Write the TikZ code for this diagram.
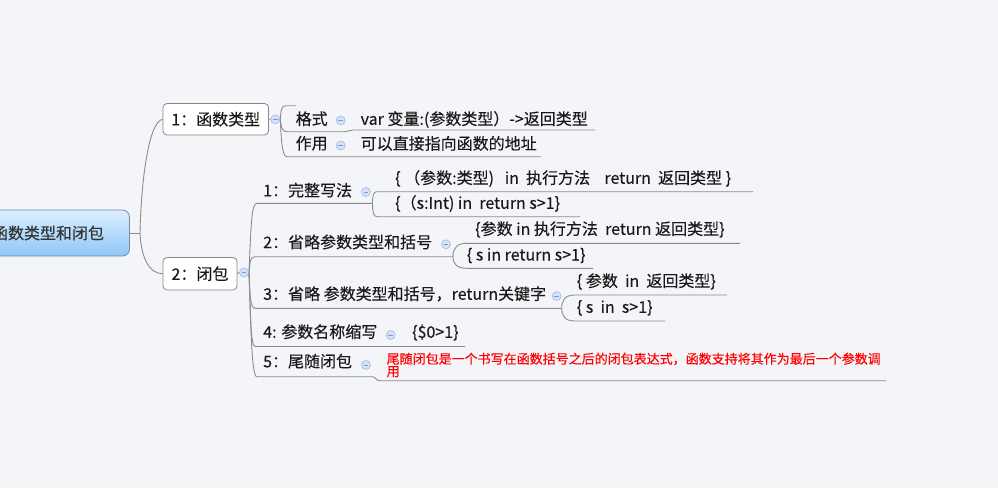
\documentclass[tikz,border=0pt]{standalone}
\usepackage{fontspec}
\setmainfont{Noto Sans CJK SC}[FakeBold=0.25]
\definecolor{bgc}{RGB}{244,245,249}
\definecolor{linec}{RGB}{140,140,140}
\definecolor{textc}{RGB}{25,25,25}
\definecolor{redc}{RGB}{255,0,0}
\definecolor{foldfill}{RGB}{214,226,247}
\definecolor{folddraw}{RGB}{160,184,230}
\definecolor{foldminus}{RGB}{125,152,212}
\definecolor{rootborder}{RGB}{120,140,160}
\definecolor{roottop}{RGB}{220,239,254}
\definecolor{rootbot}{RGB}{142,199,247}
\definecolor{boxborder}{RGB}{135,135,135}
\begin{document}
\begin{tikzpicture}[x=1pt,y=-1pt,
  conn/.style={draw=linec, line width=0.9pt},
  txt/.style={anchor=west, inner sep=0pt, font=\fontsize{16}{18}\selectfont, text=textc, text height=0.88em, text depth=0.12em},
  redtxt/.style={anchor=west, inner sep=0pt, align=left, font=\fontsize{13}{12.5}\selectfont, text=redc},
  topicbox/.style={draw=boxborder, line width=0.8pt, fill=white, rounded corners=4pt, inner sep=0pt, font=\fontsize{16}{18}\selectfont, text=textc},
  rootbox/.style={draw=rootborder, line width=0.8pt, rounded corners=7pt, top color=roottop, bottom color=rootbot, inner sep=0pt, font=\fontsize{16}{18}\selectfont, text=black!80},
  fold/.style={circle, draw=folddraw, fill=foldfill, line width=0.6pt, minimum size=9pt, inner sep=0pt,
    path picture={\draw[foldminus, line width=0.8pt] ([xshift=-2.3pt]path picture bounding box.center) -- ([xshift=2.3pt]path picture bounding box.center);}}
]
\useasboundingbox (0,0) rectangle (998,488);
\fill[bgc] (0,0) rectangle (998,488);
\clip (0,0) rectangle (998,488);

% root and first level
\node[rootbox, minimum width=163pt, minimum height=46pt] (root) at (48,233) {函数类型和闭包};
\node[topicbox, minimum width=105.5pt, minimum height=31.5pt] (n1) at (215.75,119.25) {1：函数类型};
\node[topicbox, minimum width=74pt, minimum height=32.5pt] (n2) at (200,273.75) {2：闭包};
\node[fold] (f1) at (275.3,119.3) {};
\node[fold] (f2) at (244,272.5) {};

\coordinate (r0) at (140,233);
\draw[conn] (root.east) -- (r0);
\draw[conn] (r0) .. controls (141,185) and (148,122) .. (n1.west);
\draw[conn] (r0) .. controls (141,255) and (148,273.75) .. (n2.west);
\draw[conn] (n1.east) -- (f1.west);
\draw[conn] (n2.east) -- (f2.west);

% group under 1
\coordinate (a1) at (280.3,119.5);
\coordinate (s1a) at (285.5,105.7);
\coordinate (s1b) at (295.5,105.7);
\coordinate (u11a) at (287,131.7);
\coordinate (u11b) at (345,131.7);
\coordinate (u11c) at (353,130);
\coordinate (u11d) at (595,130);
\coordinate (u12a) at (287,156.7);
\coordinate (u12b) at (541,156.7);
\draw[conn] (a1) .. controls (280.8,110) and (281.8,105.7) .. (s1a) -- (s1b);
\draw[conn] (a1) .. controls (281,127) and (282,131.7) .. (u11a) -- (u11b) .. controls (349,131.7) and (349,130) .. (u11c) -- (u11d);
\draw[conn] (a1) .. controls (281.3,140) and (282,156.7) .. (u12a) -- (u12b);

\node[txt] (t1) at (295.5,121) {格式};
\node[fold] (g1) at (340.7,120.5) {};
\node[txt] (t1c) at (360.5,121) {var 变量:(参数类型）->返回类型};
\node[txt] (t2) at (295.5,145.5) {作用};
\node[fold] (g2) at (340.7,145.5) {};
\node[txt] (t2c) at (360.5,145.7) {可以直接指向函数的地址};

% group under 2
\coordinate (a2) at (249,272.5);
\coordinate (c1a) at (257,203.3);
\coordinate (b1) at (372.5,203.3);
\coordinate (c2a) at (255,256.7);
\coordinate (b2) at (453,256.7);
\coordinate (c3a) at (255,308.3);
\coordinate (b3) at (561.7,308.3);
\coordinate (c4a) at (255,346.5);
\coordinate (c4b) at (465,346.5);
\coordinate (c5a) at (256.7,376.7);
\coordinate (c5b) at (371.7,376.7);
\coordinate (c5c) at (380,380.7);
\coordinate (c5d) at (886,380.7);
\draw[conn] (a2) .. controls (251,224) and (251.5,203.3) .. (c1a) -- (b1);
\draw[conn] (a2) .. controls (250,261) and (250.5,256.7) .. (c2a) -- (b2);
\draw[conn] (a2) .. controls (250,297) and (250.5,308.3) .. (c3a) -- (b3);
\draw[conn] (a2) .. controls (250.5,318) and (251,346.5) .. (c4a) -- (c4b);
\draw[conn] (a2) .. controls (250.5,308) and (251,376.7) .. (c5a) -- (c5b) .. controls (376,376.7) and (376,380.7) .. (c5c) -- (c5d);

% bracket 1
\coordinate (d1a) at (377,191.7);
\coordinate (d1b) at (753,191.7);
\coordinate (e1a) at (377,216.7);
\coordinate (e1b) at (580,216.7);
\draw[conn] (b1) .. controls (372.5,195) and (373.5,191.7) .. (d1a) -- (d1b);
\draw[conn] (b1) .. controls (372.5,212) and (373.5,216.7) .. (e1a) -- (e1b);
% bracket 2
\coordinate (d2a) at (466.7,243.3);
\coordinate (d2b) at (740,243.3);
\coordinate (e2a) at (466.7,268.3);
\coordinate (e2b) at (593,268.3);
\draw[conn] (b2) .. controls (453,248) and (457,243.3) .. (d2a) -- (d2b);
\draw[conn] (b2) .. controls (453,264) and (457,268.3) .. (e2a) -- (e2b);
% bracket 3
\coordinate (d3a) at (575,295);
\coordinate (d3b) at (727,295);
\coordinate (e3a) at (575,321);
\coordinate (e3b) at (665,321);
\draw[conn] (b3) .. controls (561.7,300) and (565,295) .. (d3a) -- (d3b);
\draw[conn] (b3) .. controls (561.7,316) and (565,321) .. (e3a) -- (e3b);

\node[txt] (k1) at (263,192.5) {1：完整写法};
\node[fold] (h1) at (366,192) {};
\node[txt] (k1a) at (395,180) {\{ （参数:类型)~~~in~~执行方法~~~~return~~返回类型~\}};
\node[txt] (k1b) at (395,205) {\{（s:Int) in~~return s>1\}};

\node[txt] (k2) at (263,244.3) {2：省略参数类型和括号};
\node[fold] (h2) at (446,244.3) {};
\node[txt] (k2a) at (475,231) {\{参数 in 执行方法~~return 返回类型\}};
\node[txt] (k2b) at (466.7,256.7) {\{ s in return s>1\}};

\node[txt] (k3) at (263,296) {3：省略 参数类型和括号，return关键字};
\node[fold] (h3) at (556.7,296) {};
\node[txt] (k3a) at (576.7,283) {\{ 参数~~in~~返回类型\}};
\node[txt] (k3b) at (576.7,309) {\{ s~~in~~s>1\}};

\node[txt] (k4) at (263,334) {4: 参数名称缩写};
\node[fold] (h4) at (390.7,335) {};
\node[txt] (k4a) at (412,334) {\{\$0>1\}};

\node[txt] (k5) at (263,363.5) {5：尾随闭包};
\node[fold] (h5) at (366,365) {};
\node[redtxt] (k5a) at (386.5,365) {尾随闭包是一个书写在函数括号之后的闭包表达式，函数支持将其作为最后一个参数调\\用};
\end{tikzpicture}
\end{document}
